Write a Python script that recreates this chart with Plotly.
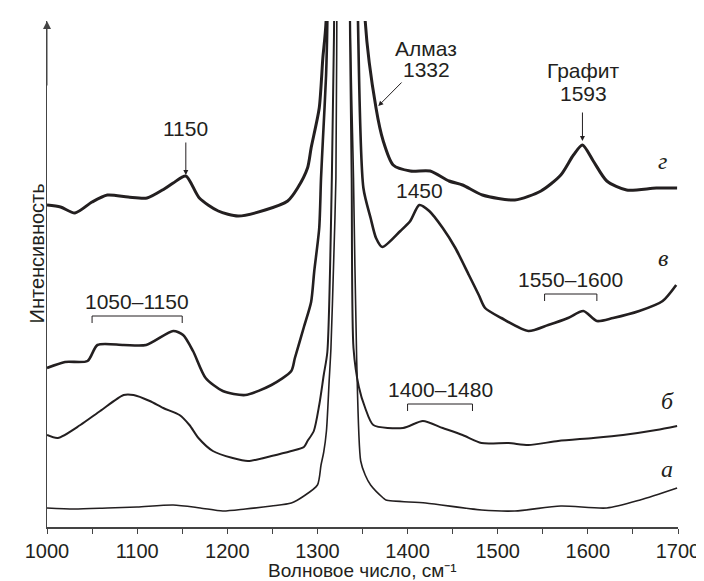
import plotly.graph_objects as go

# wavenumber (cm^-1) / intensity (arb. units)
wn_a = [1000, 1030, 1067, 1100, 1140, 1170, 1195, 1220, 1249, 1271, 1285, 1300, 1304, 1307,
        1310, 1313, 1315, 1318, 1320.5, 1321.5, 1329, 1336.5, 1340, 1343.5, 1348, 1353, 1359,
        1373, 1376, 1420, 1482, 1519, 1570, 1621, 1658, 1699]
int_a = [19, 18, 19, 20, 22, 19, 16, 18, 21, 24, 31, 42, 62, 75,
         96, 146, 179, 265, 349, 506, 3000, 506, 349, 169, 66, 52, 42,
         29, 27, 24, 17, 16, 21, 19, 27, 39]

wn_b = [1000, 1012, 1037, 1059, 1085, 1096, 1114, 1129, 1147, 1158, 1168, 1184, 1206, 1223,
        1249, 1271, 1285, 1289, 1296, 1302, 1307, 1311, 1316, 1318.5, 1328, 1336, 1338, 1340,
        1346, 1353, 1362, 1395, 1417, 1439, 1461, 1482, 1512, 1534, 1567, 1606, 1639, 1676, 1699]
int_b = [92, 89, 102, 116, 132, 132, 126, 119, 112, 102, 89, 76, 69, 66,
         71, 76, 80, 86, 96, 122, 152, 175, 349, 506, 3000, 506, 349, 179,
         140, 119, 102, 99, 106, 99, 92, 84, 84, 82, 86, 89, 92, 97, 101]

wn_v = [1000, 1020, 1045, 1056, 1085, 1110, 1140, 1151, 1162, 1176, 1195, 1220, 1249, 1271,
        1275, 1285, 1293, 1296.5, 1302, 1304, 1306, 1309.6, 1311, 1330, 1345, 1351, 1359, 1365,
        1372, 1392, 1403, 1413, 1424, 1439, 1453, 1468, 1479, 1486, 1504, 1534, 1556, 1578,
        1595, 1610, 1628, 1657, 1683, 1698]
int_v = [159, 165, 166, 182, 182, 182, 196, 192, 176, 149, 136, 132, 142, 156,
         169, 200, 225, 256, 299, 349, 386, 452, 506, 3000, 506, 339, 309, 289,
         280, 296, 306, 322, 316, 299, 279, 252, 232, 219, 209, 196, 202, 209,
         216, 206, 209, 216, 226, 242]

wn_g = [1000, 1015, 1031, 1050, 1067, 1090, 1111, 1130, 1140, 1154, 1169, 1190, 1212, 1242,
        1267, 1278, 1289, 1293, 1302, 1306, 1309.6, 1331, 1353, 1365, 1373, 1384, 1403, 1425,
        1446, 1461, 1483, 1519, 1548, 1570, 1584, 1594, 1606, 1621, 1643, 1676, 1699]
int_g = [322, 320, 314, 325, 332, 330, 329, 338, 344, 351, 329, 316, 311, 317,
         326, 339, 359, 379, 419, 469, 506, 3000, 506, 419, 386, 362, 356, 356,
         346, 342, 332, 327, 336, 352, 372, 382, 366, 346, 337, 339, 339]

x_ticks = [1000, 1100, 1200, 1300, 1400, 1500, 1600, 1700]
curve_names = ["а", "б", "в", "г"]
brackets = [("1050–1150", 1050, 1150), ("1400–1480", 1400, 1472), ("1550–1600", 1552, 1610)]

ink = "#231f20"
font = "Liberation Sans"

fig = go.Figure()
for wn, inten, w, name in [(wn_a, int_a, 1.6, curve_names[0]), (wn_b, int_b, 2.0, curve_names[1]),
                           (wn_v, int_v, 2.6, curve_names[2]), (wn_g, int_g, 3.0, curve_names[3])]:
    fig.add_trace(go.Scatter(x=wn, y=inten, mode="lines", name=name,
                             line=dict(color=ink, width=w, shape="spline", smoothing=0.7),
                             showlegend=False))

ann = []
txt = dict(family=font, size=21, color=ink)

# curve letters
for name, x, y in zip(curve_names, [1688, 1688, 1683, 1683], [58, 126, 269, 366]):
    ann.append(dict(x=x, y=y, text=name, showarrow=False,
                    font=dict(family="Liberation Serif", size=24, color=ink, style="italic")))

# peak labels
ann.append(dict(x=1154, y=399, text="1150", showarrow=False, font=txt))
ann.append(dict(x=1154, y=352, ax=1154, ay=386, axref="x", ayref="y", text="", showarrow=True,
                arrowhead=2, arrowsize=1, arrowwidth=1, arrowcolor=ink))
ann.append(dict(x=1420, y=479, text="Алмаз", showarrow=False, font=txt))
ann.append(dict(x=1421, y=458, text="1332", showarrow=False, font=txt))
ann.append(dict(x=1367.5, y=421, ax=1395, ay=446, axref="x", ayref="y", text="", showarrow=True,
                arrowhead=2, arrowsize=1, arrowwidth=1, arrowcolor=ink))
ann.append(dict(x=1595, y=457, text="Графит", showarrow=False, font=txt))
ann.append(dict(x=1595, y=434, text="1593", showarrow=False, font=txt))
ann.append(dict(x=1594, y=386, ax=1594, ay=416, axref="x", ayref="y", text="", showarrow=True,
                arrowhead=2, arrowsize=1, arrowwidth=1, arrowcolor=ink))
ann.append(dict(x=1413, y=337, text="1450", showarrow=False, font=txt))

# range brackets
shapes = []
for (label, x0, x1), yb in zip(brackets, [211, 123, 233]):
    ann.append(dict(x=(x0 + x1) / 2, y=yb + 15, text=label, showarrow=False, font=txt))
    shapes.append(dict(type="path", xref="x", yref="y",
                       path=f"M {x0},{yb - 7} L {x0},{yb} L {x1},{yb} L {x1},{yb - 7}",
                       line=dict(color=ink, width=1)))

# axis titles and the y-axis arrow
ann.append(dict(x=0.5, y=-0.108, xref="paper", yref="paper", showarrow=False, borderpad=0,
                text="Волновое число, см⁻¹", font=dict(family=font, size=19, color=ink)))
ann.append(dict(x=-0.037, y=0.54, xref="paper", yref="paper", showarrow=False,
                text="Интенсивность", textangle=-90, font=dict(family=font, size=20, color=ink)))
ann.append(dict(x=1000, y=506, ax=1000, ay=440, axref="x", ayref="y", text="", showarrow=True,
                arrowhead=2, arrowsize=1.6, arrowwidth=1, arrowcolor="#444"))

fig.update_layout(
    width=704, height=581,
    margin=dict(l=39, r=25, t=13, b=62),
    paper_bgcolor="white", plot_bgcolor="white",
    annotations=ann, shapes=shapes,
    xaxis=dict(range=[1000, 1700], tickvals=x_ticks, ticks="outside", ticklen=5, tickwidth=1,
               tickcolor="#444", showline=True, linecolor="#444", linewidth=1.5,
               showgrid=False, zeroline=False, tickfont=dict(family=font, size=20, color=ink),
               minor=dict(dtick=50, tick0=1000, ticks="outside", ticklen=5, tickcolor="#444")),
    yaxis=dict(range=[0, 506], showticklabels=False, ticks="", showline=True, linecolor="#444",
               linewidth=1, showgrid=False, zeroline=False),
)

fig.write_html("out.html")
